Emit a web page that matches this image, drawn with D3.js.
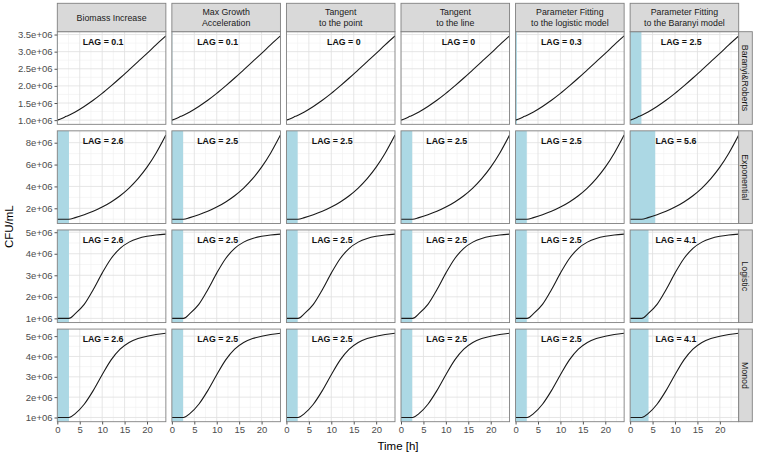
<!DOCTYPE html>
<html><head><meta charset="utf-8">
<script src="https://cdn.jsdelivr.net/npm/d3@7"></script>
<style>
html,body{margin:0;padding:0;background:#fff;}
svg{display:block;font-family:"Liberation Sans",Arial,Helvetica,sans-serif;}
</style></head>
<body><svg id="chart" width="764" height="454"></svg>
<script>
// ---- data ----
const methods = ["Biomass Increase", "Max Growth\nAcceleration", "Tangent\nto the point", "Tangent\nto the line", "Parameter Fitting\nto the logistic model", "Parameter Fitting\nto the Baranyi model"];
const models = ["Baranyi&Roberts", "Exponential", "Logistic", "Monod"];
const lagBaranyi = [0.1, 0.1, 0, 0, 0.3, 2.5];
const lagExponential = [2.6, 2.5, 2.5, 2.5, 2.5, 5.6];
const lagLogistic = [2.6, 2.5, 2.5, 2.5, 2.5, 4.1];
const lagMonod = [2.6, 2.5, 2.5, 2.5, 2.5, 4.1];
const timeH = [0, 1, 2, 2.6, 4, 6, 8, 10, 12, 14, 16, 18, 20, 22, 24.2];
const cfuBaranyi = [1.00e6, 1.05e6, 1.11e6, 1.145e6, 1.24e6, 1.40e6, 1.58e6, 1.78e6, 2.00e6, 2.23e6, 2.47e6, 2.71e6, 2.95e6, 3.20e6, 3.46e6];
const cfuExponential = [1e6, 1e6, 1e6, 1e6, 1.15e6, 1.41e6, 1.72e6, 2.11e6, 2.58e6, 3.15e6, 3.85e6, 4.71e6, 5.76e6, 7.04e6, 8.7e6];
const cfuLogistic = [1e6, 1e6, 1e6, 1e6, 1.22e6, 1.65e6, 2.33e6, 3.10e6, 3.78e6, 4.25e6, 4.54e6, 4.71e6, 4.81e6, 4.87e6, 4.91e6];
const cfuMonod = [1e6, 1e6, 1e6, 1e6, 1.19e6, 1.65e6, 2.32e6, 3.10e6, 3.83e6, 4.36e6, 4.69e6, 4.88e6, 4.99e6, 5.08e6, 5.14e6];
const xTicks = [0, 5, 10, 15, 20];
const yTicksBaranyi = [1.0e6, 1.5e6, 2.0e6, 2.5e6, 3.0e6, 3.5e6];
const yTicksExponential = [2e6, 4e6, 6e6, 8e6];
const yTicksLogistic = [1e6, 2e6, 3e6, 4e6, 5e6];
const yTicksMonod = [1e6, 2e6, 3e6, 4e6, 5e6];

const rowData = [
  {cfu: cfuBaranyi, lags: lagBaranyi, ticks: yTicksBaranyi, fmt: d3.format(".1e")},
  {cfu: cfuExponential, lags: lagExponential, ticks: yTicksExponential, fmt: d3.format(".0e")},
  {cfu: cfuLogistic, lags: lagLogistic, ticks: yTicksLogistic, fmt: d3.format(".0e")},
  {cfu: cfuMonod, lags: lagMonod, ticks: yTicksMonod, fmt: d3.format(".0e")}
];
function sci(f){ return v => f(v).replace(/e\+(\d)$/, "e+0$1"); }

// ---- layout ----
const svg = d3.select("#chart");
const plotL = 57.3, plotR = 738.7, plotT = 31.7, plotB = 421.7;
const gapX = 6, gapY = 6.5;
const pw = (plotR - plotL - 5 * gapX) / 6;
const ph = (plotB - plotT - 3 * gapY) / 4;
const stripTop = 3.3, stripRW = 13.6;
const borderCol = "#808080";

const x = d3.scaleLinear().domain(d3.extent(timeH)).range([0, pw]);
const minorX = [2.5, 7.5, 12.5, 17.5, 22.5];

// label centre overrides (data units)
function labelT(r, c){
  if (r === 0 && (c === 2 || c === 3)) return 12.8;
  if (r === 0 && c === 5) return 11.4;
  return 10.2;
}

rowData.forEach((rd, r) => {
  const ext = d3.extent(rd.cfu);
  const pad = (ext[1] - ext[0]) * 0.05;
  const y = d3.scaleLinear().domain([ext[0] - pad, ext[1] + pad]).range([ph, 0]);
  const step = rd.ticks[1] - rd.ticks[0];
  const minorY = [];
  for (let v = rd.ticks[0] - step / 2; v <= y.domain()[1]; v += step) if (v >= y.domain()[0]) minorY.push(v);
  const pts = timeH.map((t, i) => [t, rd.cfu[i]]);
  const line = d3.line().x(d => x(d[0])).y(d => y(d[1])).curve(d3.curveMonotoneX);

  methods.forEach((m, c) => {
    const px = plotL + c * (pw + gapX), py = plotT + r * (ph + gapY);
    const g = svg.append("g").attr("transform", `translate(${px},${py})`);
    g.append("rect").attr("width", pw).attr("height", ph).attr("fill", "#fff");
    const defsId = `clip${r}_${c}`;
    g.append("clipPath").attr("id", defsId).append("rect").attr("width", pw).attr("height", ph);
    const inner = g.append("g").attr("clip-path", `url(#${defsId})`);
    inner.selectAll(".mnx").data(minorX).join("line").attr("x1", x).attr("x2", x).attr("y1", 0).attr("y2", ph).attr("stroke", "#f0f0f0").attr("stroke-width", 0.6);
    inner.selectAll(".mny").data(minorY).join("line").attr("y1", y).attr("y2", y).attr("x1", 0).attr("x2", pw).attr("stroke", "#f0f0f0").attr("stroke-width", 0.6);
    inner.selectAll(".mjx").data(xTicks).join("line").attr("x1", x).attr("x2", x).attr("y1", 0).attr("y2", ph).attr("stroke", "#e0e0e0").attr("stroke-width", 0.8);
    inner.selectAll(".mjy").data(rd.ticks).join("line").attr("y1", y).attr("y2", y).attr("x1", 0).attr("x2", pw).attr("stroke", "#e0e0e0").attr("stroke-width", 0.8);
    const lag = rd.lags[c];
    inner.append("rect").attr("x", x(0)).attr("y", 0).attr("width", Math.max(0, x(lag) - x(0))).attr("height", ph).attr("fill", "#acd8e4");
    inner.append("path").datum(pts).attr("d", line).attr("fill", "none").attr("stroke", "#1a1a1a").attr("stroke-width", 1.1);
    g.append("text").attr("x", x(labelT(r, c))).attr("y", 10).attr("dy", "0.35em").attr("text-anchor", "middle")
      .attr("font-size", 8.8).attr("font-weight", "bold").attr("fill", "#111").text(`LAG = ${lag}`);
    g.append("rect").attr("width", pw).attr("height", ph).attr("fill", "none").attr("stroke", borderCol).attr("stroke-width", 0.9);

    if (c === 0) {
      const ax = g.append("g").call(d3.axisLeft(y).tickValues(rd.ticks).tickFormat(sci(rd.fmt)).tickSize(2.8).tickPadding(2));
      ax.select(".domain").remove();
      ax.selectAll("line").attr("stroke", "#555");
      ax.selectAll("text").attr("font-size", 9.5).attr("fill", "#4d4d4d").attr("font-family", "Liberation Sans, Arial, sans-serif");
    }
    if (r === 3) {
      const ax = g.append("g").attr("transform", `translate(0,${ph})`).call(d3.axisBottom(x).tickValues(xTicks).tickSize(2.8).tickPadding(2));
      ax.select(".domain").remove();
      ax.selectAll("line").attr("stroke", "#555");
      ax.selectAll("text").attr("font-size", 9.5).attr("fill", "#4d4d4d").attr("font-family", "Liberation Sans, Arial, sans-serif");
    }
    if (r === 0) {
      const sg = svg.append("g").attr("transform", `translate(${px},${stripTop})`);
      const sh = plotT - stripTop;
      sg.append("rect").attr("width", pw).attr("height", sh).attr("fill", "#d9d9d9").attr("stroke", borderCol).attr("stroke-width", 0.9);
      const lines = m.split("\n");
      const t = sg.append("text").attr("text-anchor", "middle").attr("font-size", 8.8).attr("fill", "#1a1a1a");
      lines.forEach((ln, i) => {
        t.append("tspan").attr("x", pw / 2).attr("y", sh / 2 + (i - (lines.length - 1) / 2) * 10.6).attr("dy", "0.35em").text(ln);
      });
    }
    if (c === 5) {
      const sg = svg.append("g").attr("transform", `translate(${px + pw},${py})`);
      sg.append("rect").attr("width", stripRW).attr("height", ph).attr("fill", "#d9d9d9").attr("stroke", borderCol).attr("stroke-width", 0.9);
      sg.append("text").attr("transform", `translate(${stripRW / 2},${ph / 2}) rotate(90)`).attr("text-anchor", "middle").attr("dy", "0.35em")
        .attr("font-size", 8.8).attr("fill", "#1a1a1a").text(models[r]);
    }
  });
});

svg.append("text").attr("x", (plotL + plotR) / 2).attr("y", 446).attr("dy", "0.35em").attr("text-anchor", "middle")
  .attr("font-size", 11.5).attr("fill", "#000").text("Time [h]");
svg.append("text").attr("transform", `translate(9,${(plotT + plotB) / 2}) rotate(-90)`).attr("dy", "0.35em").attr("text-anchor", "middle")
  .attr("font-size", 11.5).attr("fill", "#000").text("CFU/mL");
</script></body></html>
